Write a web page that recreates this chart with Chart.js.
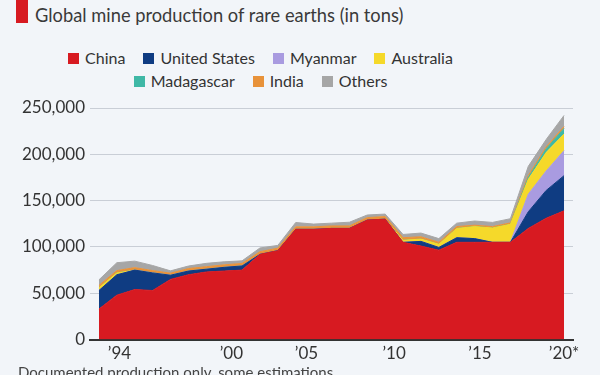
<!DOCTYPE html>
<html>
<head>
<meta charset="utf-8">
<script src="https://cdn.jsdelivr.net/npm/chart.js@4"></script>
<style>
  html, body { margin: 0; padding: 0; background: #f2f5f9; }
  body { width: 600px; height: 375px; position: relative; overflow: hidden; font-family: Lato, sans-serif; color: #333; }
  #bar { position: absolute; left: 16px; top: 0; width: 12px; height: 23px; background: #d71a21; }
  #title { position: absolute; left: 35px; top: 4px; font-size: 18.3px; white-space: nowrap; color: #3a3a3a; }
  .legend-row { position: absolute; left: 0; width: 521px; text-align: center; font-size: 16px; white-space: nowrap; line-height: 20px; }
  .item { display: inline-block; margin: 0 9px; }
  .swatch { display: inline-block; width: 11px; height: 11px; margin-right: 6px; }
  #note { position: absolute; left: 18px; top: 363px; font-size: 15px; color: #444; white-space: nowrap; }
  canvas { position: absolute; left: 0; top: 0; }
</style>
</head>
<body>
<div id="bar"></div>
<div id="title">Global mine production of rare earths (in tons)</div>
<div class="legend-row" id="row1" style="top:48px"></div>
<div class="legend-row" id="row2" style="top:71px"></div>
<canvas id="chart" width="600" height="375"></canvas>
<div id="note">Documented production only, some estimations</div>
<script>
const years = [1994, 1995, 1996, 1997, 1998, 1999, 2000, 2001, 2002, 2003, 2004, 2005, 2006, 2007,
  2008, 2009, 2010, 2011, 2012, 2013, 2014, 2015, 2016, 2017, 2018, 2019, 2020];

// tons
const china = [33000, 48000, 54000, 53000, 65000, 70000, 73000, 74000, 75000, 92000, 96000, 119000, 119000, 120000,
  120000, 129000, 130000, 105000, 101000, 96500, 105000, 105000, 105000, 105000, 120000, 131000, 139000];
const unitedStates = [20000, 22000, 21000, 19000, 4500, 4000, 3000, 4000, 4500, 0, 0, 0, 0, 0,
  0, 0, 0, 0, 5000, 3000, 5000, 4000, 0, 0, 18000, 30000, 38000];
const myanmar = [0, 0, 0, 0, 0, 0, 0, 0, 0, 0, 0, 0, 0, 0,
  0, 0, 0, 0, 0, 0, 0, 0, 0, 0, 19000, 21000, 27000];
const australia = [3000, 2000, 0, 0, 0, 0, 0, 0, 0, 0, 0, 0, 0, 0,
  0, 0, 0, 2200, 2500, 3500, 10000, 13000, 15500, 19500, 16000, 20000, 18000];
const madagascar = [0, 0, 0, 0, 0, 0, 0, 0, 0, 0, 0, 0, 0, 0,
  0, 0, 0, 0, 0, 0, 0, 0, 0, 0, 2000, 4000, 6000];
const india = [2500, 2500, 2700, 2500, 2200, 2700, 2700, 2700, 2700, 2900, 2700, 2700, 2700, 2700,
  2700, 2700, 2800, 2800, 2500, 2000, 2000, 1500, 1500, 1500, 2000, 2000, 2000];
const others = [6000, 8500, 7000, 5500, 2500, 2700, 3600, 3300, 2800, 4000, 3000, 4700, 3000, 3000,
  4000, 2800, 2700, 3500, 4000, 4000, 3700, 4500, 4500, 4500, 10000, 8000, 12000];

const seriesNames = ['China', 'United States', 'Myanmar', 'Australia', 'Madagascar', 'India', 'Others'];
const seriesValues = [china, unitedStates, myanmar, australia, madagascar, india, others];
const seriesColors = ['#d71a21', '#0f3c82', '#a99be0', '#f5d92a', '#3fb8a6', '#e8923a', '#a6a6a6'];

// where the year labels sit under the axis in the source graphic
const tickYears = [1995.15, 2001.4, 2005.6, 2010.5, 2015.3, 2020];
const tickLabels = ['’94', '’00', '’05', '’10', '’15', '’20*'];
const yTicks = [0, 50000, 100000, 150000, 200000, 250000];

const FONT = 'Lato';

// html legend, 4 + 3 items like the original
const rows = [document.getElementById('row1'), document.getElementById('row2')];
seriesNames.forEach((name, i) => {
  const item = document.createElement('span');
  item.className = 'item';
  item.innerHTML = '<span class="swatch" style="background:' + seriesColors[i] + '"></span>' + name;
  rows[i < 4 ? 0 : 1].appendChild(item);
});

const ctx = document.getElementById('chart').getContext('2d');

const chart = new Chart(ctx, {
  type: 'line',
  data: {
    datasets: seriesNames.map((name, i) => ({
      label: name,
      data: years.map((yr, j) => ({ x: yr, y: seriesValues[i][j] })),
      backgroundColor: seriesColors[i],
      borderColor: seriesColors[i],
      borderWidth: 1,
      fill: i === 0 ? 'origin' : '-1',
      pointRadius: 0,
      tension: 0
    }))
  },
  options: {
    responsive: false,
    animation: false,
    devicePixelRatio: 1,
    layout: { padding: { left: 0, right: 27, top: 108, bottom: 7 } },
    plugins: { legend: { display: false }, tooltip: { enabled: false } },
    scales: {
      x: {
        type: 'linear',
        min: 1993.5,
        max: 2020.5,
        grid: { display: false, drawTicks: false },
        border: { display: true, color: '#333', width: 2 },
        afterBuildTicks: scale => { scale.ticks = tickYears.map(v => ({ value: v })); },
        ticks: {
          callback: (v, i) => tickLabels[i],
          font: { family: FONT, size: 17 },
          color: '#333',
          padding: 4,
          autoSkip: false,
          maxRotation: 0
        }
      },
      y: {
        stacked: true,
        min: 0,
        max: 250000,
        afterBuildTicks: scale => { scale.ticks = yTicks.map(v => ({ value: v })); },
        afterFit: scale => { scale.width = 90; },
        grid: { color: '#c9ced6', drawTicks: false, lineWidth: 1 },
        border: { display: false },
        ticks: {
          padding: 5,
          callback: v => v.toLocaleString('en-US'),
          font: { family: FONT, size: 17 },
          color: '#333'
        }
      }
    }
  }
});
</script>
</body>
</html>
